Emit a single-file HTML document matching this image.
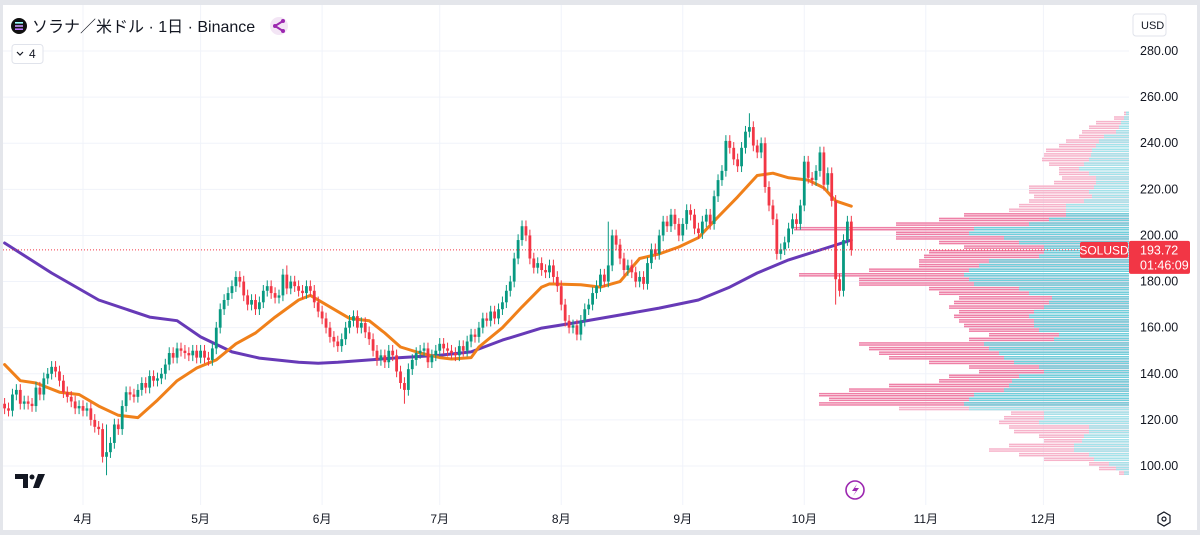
<!DOCTYPE html>
<html><head><meta charset="utf-8"><style>
html,body{margin:0;padding:0;background:#fff;}
#wrap{position:relative;width:1200px;height:535px;overflow:hidden;font-family:"Liberation Sans","Noto Sans CJK JP",sans-serif;background:#fff;}
svg text{font-family:"Liberation Sans","Noto Sans CJK JP",sans-serif;}
</style></head><body>
<div id="wrap">
<svg id="chart" width="1200" height="535" xmlns="http://www.w3.org/2000/svg">
  <rect x="0" y="0" width="1200" height="535" fill="#fff"/>
  <rect x="0" y="0" width="1200" height="5" fill="#e4e6eb"/>
  <rect x="0" y="0" width="3" height="535" fill="#e4e6eb"/>
  <rect x="1197" y="0" width="3" height="535" fill="#e4e6eb"/>
  <rect x="0" y="530" width="1200" height="5" fill="#e4e6eb"/>
  <g id="grid"></g>
  <g id="vp"></g>
  <g id="mas"></g>
  <g id="candles"></g>
  <g id="axes"></g>
  <g>
    <circle cx="19" cy="26" r="8" fill="#111"/>
    <rect x="15" y="22" width="8" height="1.6" fill="#9ff" />
    <rect x="15" y="25.2" width="8" height="1.6" fill="#c9f" />
    <rect x="15" y="28.4" width="8" height="1.6" fill="#b7f" />
    <text x="32" y="32" font-size="16" fill="#131722">ソラナ／米ドル · 1日 · Binance</text>
  </g>
  <g>
    <circle cx="279" cy="26" r="9" fill="#f3e5f5"/>
    <path d="M283 21 L275 26 L283 31" stroke="#9c27b0" stroke-width="2" fill="none"/>
    <circle cx="283" cy="21" r="2" fill="#9c27b0"/><circle cx="275" cy="26" r="2" fill="#9c27b0"/><circle cx="283" cy="31" r="2" fill="#9c27b0"/>
  </g>
  <g>
    <rect x="12" y="44.5" width="31" height="19" rx="3" fill="#fff" stroke="#e0e3eb"/>
    <path d="M17 52 L20 55 L23 52" stroke="#131722" stroke-width="1.2" fill="none"/>
    <text x="29" y="58" font-size="12" fill="#131722">4</text>
  </g>
  <g>
    <rect x="1133" y="14" width="33" height="22" rx="3" fill="#fff" stroke="#e0e3eb"/>
    <text x="1141" y="29" font-size="11" fill="#131722">USD</text>
  </g>
  <g>
    <path d="M15 474 H28 V488 H23 V479 H15 Z" fill="#131722"/>
    <circle cx="32" cy="477" r="2.5" fill="#131722"/>
    <path d="M38 474 H45 L39 488 H33 Z" fill="#131722"/>
  </g>
  <g>
    <circle cx="855" cy="490" r="9" fill="#fff" stroke="#9c27b0" stroke-width="1.6"/>
    <path d="M857 484 L852 491 H856 L853 496 L859 488 H855 Z" fill="#9c27b0"/>
  </g>
  <g>
    <path d="M1164 512 L1170 515.5 V522.5 L1164 526 L1158 522.5 V515.5 Z" fill="none" stroke="#131722" stroke-width="1.2"/>
    <circle cx="1164" cy="519" r="2" fill="none" stroke="#131722" stroke-width="1.2"/>
  </g>
</svg>
</div>
<script>
const closes = [
125,124,131,133,127,128,127,126,134,131,138,140,143,141,137,132,130,128,125,126,
124,125,120,117,116,104,106,110,118,116,126,132,131,130,133,136,134,139,137,138,140,144,149,147,151,150,149,148,150,147,
150,147,146,151,160,168,172,175,178,182,180,174,170,172,168,171,176,178,175,173,174,183,177,180,178,176,175,178,176,171,167,
164,160,156,154,152,155,160,163,165,160,162,158,155,150,146,148,145,150,148,141,136,133,142,146,149,150,151,145,148,150,
153,151,150,149,148,152,150,154,157,156,160,164,163,167,164,168,171,176,180,190,198,204,200,190,186,188,185,184,187,182,178,
170,163,160,161,157,163,168,170,175,178,183,180,187,200,196,190,185,187,184,180,182,179,188,194,192,200,206,204,209,205,200,
205,211,209,203,201,206,209,205,217,224,228,241,238,233,230,238,245,247,239,236,240,221,213,207,192,194,197,203,207,205,
213,232,225,224,228,236,222,227,215,181,176,198,206,193.72
];
const firstOpen = 127;
const extremeDays = [26, 72, 102, 132, 154, 190, 212];
const extremeHigh = [118, 187, 138, 206, 206, 253, 216];
const extremeLow  = [96, 176, 127, 197, 194, 244, 170];
const monthLabels = ["4月","5月","6月","7月","8月","9月","10月","11月","12月"];
const monthStartDays = [20, 50, 81, 111, 142, 173, 204, 235, 265];
const priceTicks = [280,260,240,220,200,180,160,140,120,100];
const lastPrice = 193.72;
const countdown = "01:46:09";
const maFastDays = [0,4,8,14,19,24,29,34,39,44,49,54,59,64,69,75,78,83,88,93,97,101,106,111,114,119,121,127,132,137,139,147,152,157,162,167,172,177,182,187,192,196,200,205,209,212,216];
const maFastVals = [144,137,136,132,131,126,122,121,128.6,137,142.5,146,153,157.7,164.6,172,174,169,164,163,157.7,151.6,149,147,146.4,147,151.6,160,169,177.6,179,178.6,177.6,180,190,192,195,199,208,216.7,226,227,225,224,220.6,215,212.7];
const maSlowDays = [0,12,24,37,44,50,58,65,75,80,85,101,111,119,127,137,145,157,167,177,185,192,200,208,216];
const maSlowVals = [196.7,183.7,172,164.6,163,156,149.5,146.8,145,144.6,145,147,148,149.5,154.6,159.8,162,165.5,168.5,172,177.6,183.7,189.4,193.7,198];
const vpStart = 96, vpStep = 2;
const vpTotal = [10,30,40,85,110,140,120,85,90,115,120,130,125,118,230,310,300,310,280,240,190,180,150,160,200,240,250,260,270,160,140,160,165,170,175,170,180,175,170,190,200,270,270,330,260,210,210,205,200,165,190,233,233,335,233,190,165,120,110,100,95,100,100,75,67,70,70,80,87,85,83,70,63,50,47,40,33,15,5];
const vpUp =    [5,13,20,35,40,55,55,47,45,40,40,90,85,85,160,165,160,155,125,120,117,110,85,90,115,125,130,140,145,75,70,90,95,95,100,95,85,80,77,100,110,155,160,165,160,150,140,90,85,85,110,125,160,155,100,80,63,63,63,45,37,40,35,33,33,40,50,45,40,38,37,33,30,25,13,10,8,5,3];

const X0 = 83, DAY0 = 20, PX_DAY = 3.92;
function xOf(d){ return X0 + (d - DAY0) * PX_DAY; }
function yOf(p){ return 466 - (p - 100) * 2.3056; }
const PLOT_R = 1129;
const NS = "http://www.w3.org/2000/svg";
function mk(tag, attrs, parent){ const e=document.createElementNS(NS,tag); for(const k in attrs) e.setAttribute(k, attrs[k]); parent.appendChild(e); return e; }

const grid = document.getElementById('grid');
priceTicks.forEach(p => {
  const l = mk('line',{x1:3,x2:PLOT_R,y1:yOf(p),y2:yOf(p),stroke:'#f0f3fa','stroke-width':1}, grid);
  
  
});
monthStartDays.forEach(d => {
  const l = mk('line',{x1:xOf(d),x2:xOf(d),y1:5,y2:505,stroke:'#f0f3fa','stroke-width':1}, grid);
  
  
});

const vp = document.getElementById('vp');
vpTotal.forEach((t, i) => {
  const pc = vpStart + vpStep * i + 1;
  const inVA = pc >= 126 && pc <= 210;
  const pink = inVA ? '#ee7fa6' : '#f6b3ca';
  const cyan = inVA ? '#6fd0dc' : '#a3e3ea';
  const yTop = yOf(vpStart + vpStep * (i + 1));
  const h = yOf(vpStart + vpStep * i) - yTop;
  [0.15, 0.6].forEach(f => {
    const yy = yTop + h * f;
    const r1 = mk('rect',{x:PLOT_R - t, y:yy, width:t, height:1.5, fill:pink}, vp);
    
    
    const r2 = mk('rect',{x:PLOT_R - vpUp[i], y:yy, width:vpUp[i], height:1.5, fill:cyan}, vp);
    
    
  });
});

const mas = document.getElementById('mas');
function line(days, vals, color, name){
  const pts = days.map((d,i)=> xOf(d).toFixed(1)+','+yOf(vals[i]).toFixed(1)).join(' ');
  const pl = mk('polyline',{points:pts,fill:'none',stroke:color,'stroke-width':3,'stroke-linejoin':'round','stroke-linecap':'round'}, mas);
  
  
}
line(maSlowDays, maSlowVals, '#673ab7', 'slow-moving-average');
line(maFastDays, maFastVals, '#f0801a', 'fast-moving-average');

const cg = document.getElementById('candles');
let prev = firstOpen;
closes.forEach((c, i) => {
  const o = prev; prev = c;
  const up = c >= o;
  const col = up ? '#089981' : '#f23645';
  let hi = Math.max(o,c) + 2.5, lo = Math.min(o,c) - 2.5;
  const k = extremeDays.indexOf(i);
  if (k >= 0){ hi = Math.max(hi, extremeHigh[k]); lo = Math.min(lo, extremeLow[k]); }
  const x = xOf(i);
  const w = mk('line',{x1:x,x2:x,y1:yOf(hi),y2:yOf(lo),stroke:col,'stroke-width':1}, cg);
  
  
  const yt = yOf(Math.max(o,c)), yb = yOf(Math.min(o,c));
  const b = mk('rect',{x:x-1.4,y:yt,width:2.8,height:Math.max(1,yb-yt),fill:col}, cg);
  
  
});

const ax = document.getElementById('axes');
const pl = mk('line',{x1:3,x2:PLOT_R,y1:yOf(lastPrice),y2:yOf(lastPrice),stroke:'#f23645','stroke-width':1,'stroke-dasharray':'1 2'}, ax);


priceTicks.forEach(p => {
  const t = mk('text',{x:1140,y:yOf(p)+4,'font-size':12.5,fill:'#131722'}, ax);
  t.textContent = p.toFixed(2);
  
  
});
monthLabels.forEach((m, i) => {
  const t = mk('text',{x:xOf(monthStartDays[i]),y:523,'font-size':12,fill:'#131722','text-anchor':'middle'}, ax);
  t.textContent = m;
  
  
});
const yl = yOf(lastPrice);
const sb = mk('rect',{x:1080,y:yl-8,width:48,height:16,rx:2,fill:'#f23645'}, ax);


const st = mk('text',{x:1104,y:yl+4.5,'font-size':12,fill:'#fff','text-anchor':'middle'}, ax);
st.textContent = 'SOLUSD';


const pb = mk('rect',{x:1129,y:yl-9,width:61,height:33,rx:2,fill:'#f23645'}, ax);


const pt = mk('text',{x:1140,y:yl+4.5,'font-size':12.5,fill:'#fff'}, ax);
pt.textContent = lastPrice.toFixed(2);


const ct = mk('text',{x:1140,y:yl+19.5,'font-size':12.5,fill:'#fff'}, ax);
ct.textContent = countdown;


</script>
</body></html>
